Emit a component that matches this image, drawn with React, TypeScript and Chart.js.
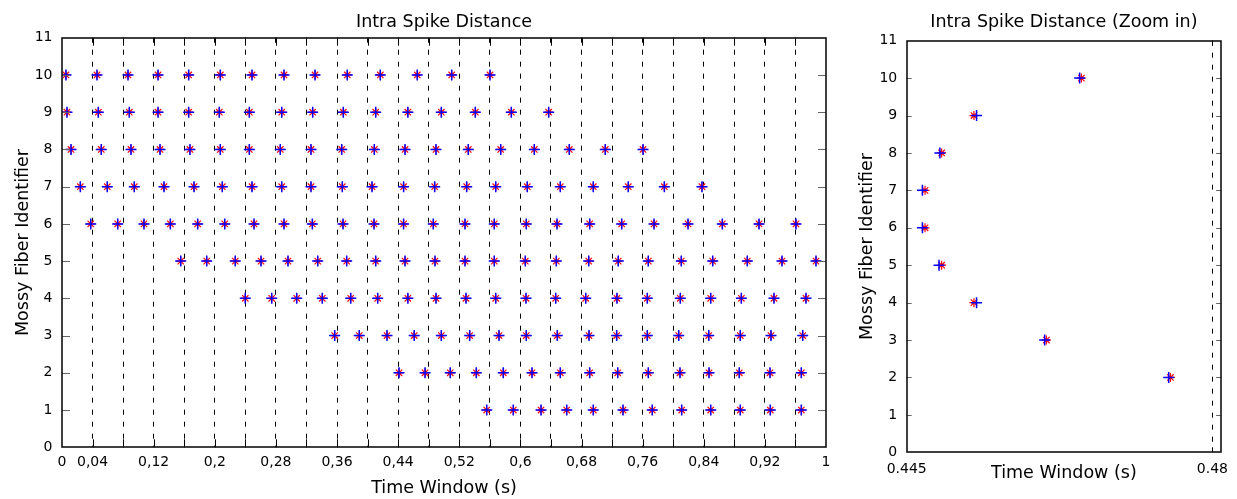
import React, { useEffect, useRef } from 'react';
import { Chart, registerables } from 'chart.js';

Chart.register(...registerables);

// ---------- DATA ----------
// Spike times (s) for each mossy fiber identifier (left, full window)
const fiber1 = [0.5559, 0.5907, 0.6270, 0.6606, 0.6954, 0.7343, 0.7726, 0.8111, 0.8491, 0.8878, 0.9271, 0.9677];
const fiber2 = [0.4411, 0.4752, 0.5082, 0.5423, 0.5776, 0.6152, 0.6522, 0.6907, 0.7274, 0.7674, 0.8089, 0.8469, 0.8865, 0.9267, 0.9677];
const fiber3 = [0.3569, 0.3891, 0.4254, 0.4610, 0.4965, 0.5336, 0.5720, 0.6077, 0.6483, 0.6898, 0.7260, 0.7661, 0.8072, 0.8465, 0.8878, 0.9280, 0.9695];
const fiber4 = [0.2399, 0.2745, 0.3072, 0.3407, 0.3779, 0.4132, 0.4527, 0.4895, 0.5288, 0.5677, 0.6073, 0.6462, 0.6855, 0.7264, 0.7661, 0.8093, 0.8491, 0.8892, 0.9319, 0.9738];
const fiber5 = [0.1554, 0.1894, 0.2268, 0.2605, 0.2958, 0.3347, 0.3726, 0.4106, 0.4490, 0.4882, 0.5275, 0.5658, 0.6064, 0.6470, 0.6894, 0.7281, 0.7674, 0.8106, 0.8517, 0.8970, 0.9424, 0.9869];
const fiber6 = [0.0376, 0.0729, 0.1073, 0.1418, 0.1776, 0.2130, 0.2513, 0.2906, 0.3277, 0.3678, 0.4084, 0.4471, 0.4860, 0.5275, 0.5658, 0.6077, 0.6479, 0.6907, 0.7326, 0.7749, 0.8194, 0.8643, 0.9123, 0.9607];
const fiber7 = [0.0240, 0.0593, 0.0946, 0.1335, 0.1728, 0.2098, 0.2487, 0.2876, 0.3259, 0.3669, 0.4058, 0.4471, 0.4878, 0.5297, 0.5677, 0.6090, 0.6522, 0.6954, 0.7412, 0.7884, 0.8377];
const fiber8 = [0.0118, 0.0514, 0.0903, 0.1283, 0.1675, 0.2072, 0.2452, 0.2857, 0.3259, 0.3661, 0.4088, 0.4490, 0.4895, 0.5318, 0.5742, 0.6182, 0.6640, 0.7111, 0.7605];
const fiber9 = [0.0065, 0.0475, 0.0881, 0.1257, 0.1658, 0.2059, 0.2452, 0.2876, 0.3281, 0.3682, 0.4106, 0.4527, 0.4965, 0.5410, 0.5881, 0.6370];
const fiber10 = [0.0052, 0.0458, 0.0864, 0.1257, 0.1658, 0.2072, 0.2487, 0.2906, 0.3312, 0.3734, 0.4166, 0.4650, 0.5101, 0.5602];

// Zoomed window (right): fiber ids with red (*) and blue (+) spike times
const zoomIds = [10, 9, 8, 7, 6, 5, 4, 3, 2];
const zoomRedX = [0.4650, 0.4527, 0.4490, 0.4471, 0.4471, 0.4490, 0.4527, 0.4610, 0.4752];
const zoomBlueX = [0.4648, 0.4530, 0.4488, 0.4468, 0.4468, 0.4487, 0.4530, 0.4608, 0.4750];

// Tick labels
const mainTickValues = [0, 0.04, 0.12, 0.2, 0.28, 0.36, 0.44, 0.52, 0.6, 0.68, 0.76, 0.84, 0.92, 1];
const mainTickLabels = ['0', '0,04', '0,12', '0,2', '0,28', '0,36', '0,44', '0,52', '0,6', '0,68', '0,76', '0,84', '0,92', '1'];
const zoomTickValues = [0.445, 0.48];
const zoomTickLabels = ['0.445', '0.48'];
const yTickValues = [0, 1, 2, 3, 4, 5, 6, 7, 8, 9, 10, 11];

// ---------- STYLE ----------
const FONT = 'DejaVu Sans';
const TITLE_SIZE = 17.5;
const TICK_SIZE = 14;
const DASH = [5, 7];

const fibers = [fiber1, fiber2, fiber3, fiber4, fiber5, fiber6, fiber7, fiber8, fiber9, fiber10];
const mainPoints = fibers.flatMap((row, i) => row.map((x) => ({ x, y: i + 1 })));
const zoomRedPoints = zoomIds.map((id, i) => ({ x: zoomRedX[i], y: id }));
const zoomBluePoints = zoomIds.map((id, i) => ({ x: zoomBlueX[i], y: id }));

function framePlugin(xTickLen: number, yTickLen: number) {
  return {
    id: 'frame',
    afterDraw(chart: any) {
      const { ctx, chartArea } = chart;
      const { left, right, top, bottom } = chartArea;
      ctx.save();
      ctx.strokeStyle = '#000';
      ctx.lineWidth = 1;
      const xs = chart.scales.x;
      xs.ticks.forEach((t: any) => {
        const px = Math.round(xs.getPixelForValue(t.value)) + 0.5;
        if (px <= left + 2 || px >= right - 2) return;
        ctx.beginPath();
        ctx.moveTo(px, top);
        ctx.lineTo(px, top + xTickLen);
        ctx.moveTo(px, bottom);
        ctx.lineTo(px, bottom - xTickLen);
        ctx.stroke();
      });
      ctx.strokeStyle = '#666';
      const ys = chart.scales.y;
      ys.ticks.forEach((t: any) => {
        const py = Math.round(ys.getPixelForValue(t.value)) + 0.5;
        if (py <= top + 2 || py >= bottom - 2) return;
        ctx.beginPath();
        ctx.moveTo(left, py);
        ctx.lineTo(left + yTickLen, py);
        ctx.moveTo(right, py);
        ctx.lineTo(right - yTickLen, py);
        ctx.stroke();
      });
      ctx.strokeStyle = '#111';
      ctx.lineWidth = 1.6;
      ctx.strokeRect(Math.round(left), Math.round(top), Math.round(right) - Math.round(left), Math.round(bottom) - Math.round(top));
      ctx.restore();
    },
  };
}

function redSet(data: any[]) {
  return {
    label: 'red',
    data,
    pointStyle: 'star',
    pointRadius: 4.5,
    pointHoverRadius: 4.5,
    pointBorderWidth: 1.2,
    pointHoverBorderWidth: 1.2,
    pointBorderColor: '#ff0000',
    pointBackgroundColor: '#ff0000',
    showLine: false,
  };
}

function blueSet(data: any[]) {
  return {
    label: 'blue',
    data,
    pointStyle: 'cross',
    pointRadius: 5.5,
    pointHoverRadius: 5.5,
    pointBorderWidth: 1.5,
    pointHoverBorderWidth: 1.5,
    pointBorderColor: '#0000ff',
    pointBackgroundColor: '#0000ff',
    showLine: false,
  };
}

function yScale(width: number, titlePad: number) {
  return {
    type: 'linear',
    min: 0,
    max: 11,
    afterBuildTicks: (s: any) => {
      s.ticks = yTickValues.map((v) => ({ value: v }));
    },
    ticks: {
      font: { family: FONT, size: TICK_SIZE },
      color: '#000',
      padding: 9.5,
      autoSkip: false,
    },
    grid: { display: false, drawTicks: false },
    border: { display: false },
    title: {
      display: true,
      text: 'Mossy Fiber Identifier',
      font: { family: FONT, size: TITLE_SIZE, weight: 'normal' },
      color: '#000',
      padding: { top: titlePad, bottom: 0 },
    },
    afterFit: (s: any) => {
      s.width = width;
    },
  };
}

function leftConfig(): any {
  return {
    type: 'scatter',
    // dataset 0 is drawn last (on top): blue crosses over red asterisks
    data: { datasets: [blueSet(mainPoints), redSet(mainPoints)] },
    options: {
      animation: false,
      responsive: true,
      maintainAspectRatio: false,
      events: [],
      layout: { padding: { left: 0, right: 19, top: 0, bottom: 0 } },
      plugins: {
        legend: { display: false },
        tooltip: { enabled: false },
        title: {
          display: true,
          text: 'Intra Spike Distance',
          fullSize: false,
          color: '#000',
          font: { family: FONT, size: TITLE_SIZE, weight: 'normal' },
          padding: { top: 12, bottom: 4.7 },
        },
      },
      scales: {
        x: {
          type: 'linear',
          min: 0,
          max: 1,
          ticks: {
            stepSize: 0.04,
            autoSkip: false,
            maxRotation: 0,
            padding: 7,
            color: '#000',
            font: { family: FONT, size: TICK_SIZE },
            callback: (v: number) => {
              const i = mainTickValues.findIndex((t) => Math.abs(t - v) < 1e-6);
              return i >= 0 ? mainTickLabels[i] : '';
            },
          },
          grid: {
            drawTicks: false,
            lineWidth: 1,
            color: (c: any) =>
              c.tick && (c.tick.value < 1e-6 || c.tick.value > 1 - 1e-6) ? 'rgba(0,0,0,0)' : '#000',
          },
          border: { display: false, dash: DASH },
          title: {
            display: true,
            text: 'Time Window (s)',
            color: '#000',
            font: { family: FONT, size: TITLE_SIZE, weight: 'normal' },
            padding: { top: 0, bottom: 0 },
          },
          afterFit: (s: any) => {
            s.height = 51.7;
          },
        },
        y: yScale(62, 12.6),
      },
    },
    plugins: [framePlugin(8, 8)],
  };
}

function rightConfig(): any {
  return {
    type: 'scatter',
    data: { datasets: [blueSet(zoomBluePoints), redSet(zoomRedPoints)] },
    options: {
      animation: false,
      responsive: true,
      maintainAspectRatio: false,
      events: [],
      layout: { padding: { left: 0, right: 8.7, top: 0, bottom: 0 } },
      plugins: {
        legend: { display: false },
        tooltip: { enabled: false },
        title: {
          display: true,
          text: 'Intra Spike Distance (Zoom in)',
          fullSize: false,
          color: '#000',
          font: { family: FONT, size: TITLE_SIZE, weight: 'normal' },
          padding: { top: 11.6, bottom: 8.1 },
        },
      },
      scales: {
        x: {
          type: 'linear',
          min: 0.445,
          max: 0.481,
          afterBuildTicks: (s: any) => {
            s.ticks = zoomTickValues.map((v) => ({ value: v }));
          },
          ticks: {
            autoSkip: false,
            maxRotation: 0,
            padding: 8.6,
            color: '#000',
            font: { family: FONT, size: TICK_SIZE },
            callback: (v: number) => {
              const i = zoomTickValues.findIndex((t) => Math.abs(t - v) < 1e-7);
              return i >= 0 ? zoomTickLabels[i] : '';
            },
          },
          grid: {
            drawTicks: false,
            lineWidth: 1,
            color: (c: any) => (c.tick && Math.abs(c.tick.value - 0.48) < 1e-7 ? '#000' : 'rgba(0,0,0,0)'),
          },
          border: { display: false, dash: DASH },
          title: {
            display: true,
            text: 'Time Window (s)',
            color: '#000',
            font: { family: FONT, size: TITLE_SIZE, weight: 'normal' },
            padding: { top: 0, bottom: 14.7 },
          },
          afterFit: (s: any) => {
            s.height = 46.7;
          },
        },
        y: yScale(61.7, 11.6),
      },
    },
    plugins: [framePlugin(5, 5)],
  };
}

export default function App() {
  const leftRef = useRef<HTMLCanvasElement>(null);
  const rightRef = useRef<HTMLCanvasElement>(null);

  useEffect(() => {
    const c1 = new Chart(leftRef.current as HTMLCanvasElement, leftConfig());
    const c2 = new Chart(rightRef.current as HTMLCanvasElement, rightConfig());
    return () => {
      c1.destroy();
      c2.destroy();
    };
  }, []);

  return (
    <div style={{ position: 'absolute', left: 0, top: 0, width: 1237, height: 499, background: '#fff' }}>
      <div style={{ position: 'absolute', left: 0, top: 0, width: 845, height: 499 }}>
        <canvas ref={leftRef} />
      </div>
      <div style={{ position: 'absolute', left: 845, top: 0, width: 392, height: 499 }}>
        <canvas ref={rightRef} />
      </div>
    </div>
  );
}
